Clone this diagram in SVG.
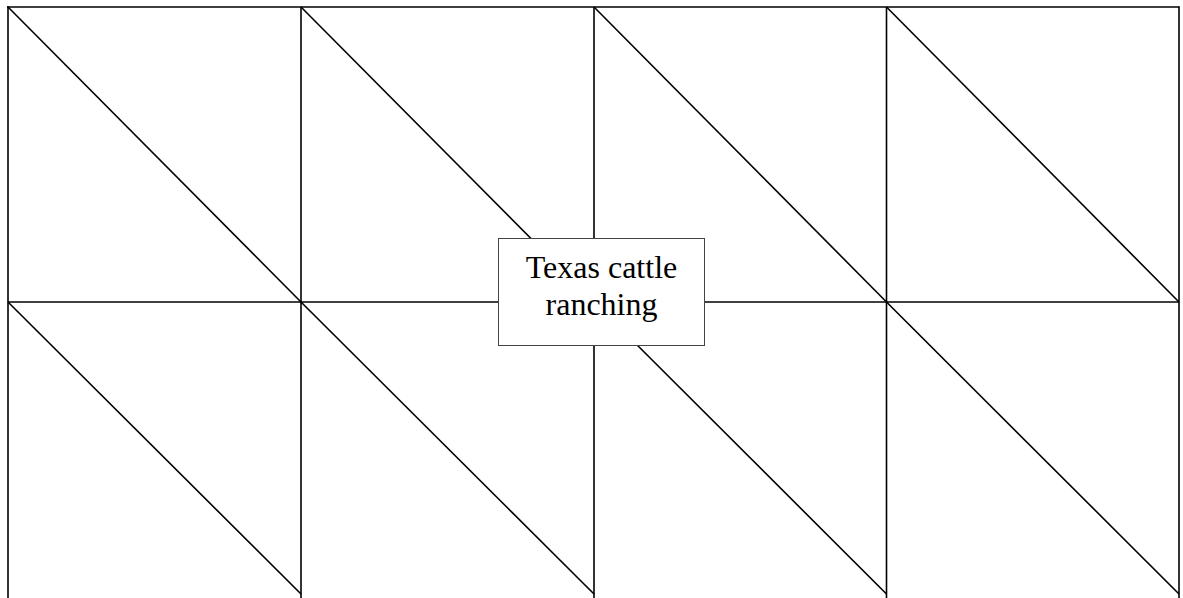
<svg xmlns="http://www.w3.org/2000/svg" width="1183" height="598" viewBox="0 0 1183 598">
<style>
.ln{stroke:#000;stroke-width:1.6;fill:none}
.box{fill:#fff;stroke:#444;stroke-width:1}
.lbl{font-family:"Liberation Serif","Times New Roman",serif;font-size:32px;fill:#000;text-anchor:middle}
</style>
<rect width="1183" height="598" fill="#fff"/>
<g id="connectors" class="ln">
<line x1="7" y1="7" x2="1179" y2="7"/>
<line x1="8" y1="302" x2="1179" y2="302"/>
<line x1="8" y1="6.2" x2="8" y2="598"/>
<line x1="301" y1="7" x2="301" y2="598"/>
<line x1="594" y1="7" x2="594" y2="598"/>
<line x1="886.5" y1="7" x2="886.5" y2="598"/>
<line x1="1179" y1="6.2" x2="1179" y2="598"/>
<line x1="8" y1="7" x2="301" y2="302"/>
<line x1="301" y1="7" x2="594" y2="302"/>
<line x1="594" y1="7" x2="886.5" y2="302"/>
<line x1="886.5" y1="7" x2="1179" y2="302"/>
<line x1="8" y1="302" x2="301" y2="594"/>
<line x1="301" y1="302" x2="594" y2="594"/>
<line x1="594" y1="302" x2="886.5" y2="594"/>
<line x1="886.5" y1="302" x2="1179" y2="594"/>
</g>
<g id="node-texas">
<rect class="box" x="498.5" y="238.5" width="206" height="107"/>
<text class="lbl" x="601.5" y="277.5">Texas cattle</text>
<text class="lbl" x="601.5" y="314.5">ranching</text>
</g>
</svg>
